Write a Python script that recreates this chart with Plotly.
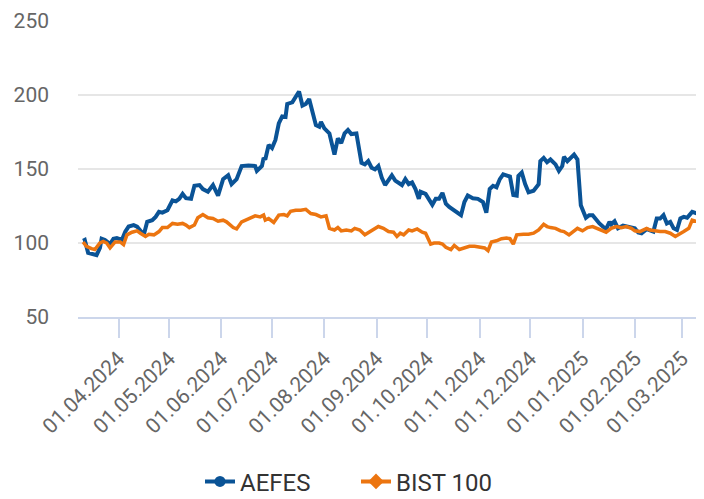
import plotly.graph_objects as go

aefes_dates = [
    "2024-03-11", "2024-03-12", "2024-03-14", "2024-03-17", "2024-03-19", "2024-03-21", "2024-03-22",
    "2024-03-24", "2024-03-27", "2024-03-29", "2024-03-31", "2024-04-03", "2024-04-05", "2024-04-07",
    "2024-04-10", "2024-04-12", "2024-04-15", "2024-04-16", "2024-04-18", "2024-04-21", "2024-04-23",
    "2024-04-25", "2024-04-27", "2024-04-30", "2024-05-03", "2024-05-05", "2024-05-07", "2024-05-09",
    "2024-05-11", "2024-05-14", "2024-05-16", "2024-05-19", "2024-05-21", "2024-05-24", "2024-05-27",
    "2024-05-30", "2024-06-02", "2024-06-05", "2024-06-07", "2024-06-10", "2024-06-13", "2024-06-17",
    "2024-06-21", "2024-06-22", "2024-06-25", "2024-06-26", "2024-06-27", "2024-06-29", "2024-07-01",
    "2024-07-03", "2024-07-05", "2024-07-07", "2024-07-09", "2024-07-10", "2024-07-13", "2024-07-15",
    "2024-07-17", "2024-07-19", "2024-07-21", "2024-07-23", "2024-07-25", "2024-07-27", "2024-07-29",
    "2024-07-30", "2024-08-01", "2024-08-04", "2024-08-07", "2024-08-09", "2024-08-11", "2024-08-13",
    "2024-08-15", "2024-08-17", "2024-08-20", "2024-08-22", "2024-08-23", "2024-08-25", "2024-08-27",
    "2024-08-29", "2024-08-31", "2024-09-02", "2024-09-04", "2024-09-06", "2024-09-08", "2024-09-10",
    "2024-09-12", "2024-09-14", "2024-09-16", "2024-09-18", "2024-09-20", "2024-09-22", "2024-09-24",
    "2024-09-26", "2024-09-27", "2024-09-30", "2024-10-02", "2024-10-04", "2024-10-06", "2024-10-08",
    "2024-10-10", "2024-10-12", "2024-10-14", "2024-10-16", "2024-10-18", "2024-10-21", "2024-10-23",
    "2024-10-25", "2024-10-28", "2024-10-31", "2024-11-03", "2024-11-05", "2024-11-07", "2024-11-09",
    "2024-11-11", "2024-11-13", "2024-11-15", "2024-11-17", "2024-11-19", "2024-11-21", "2024-11-23",
    "2024-11-24", "2024-11-26", "2024-11-28", "2024-11-30", "2024-12-03", "2024-12-06", "2024-12-07",
    "2024-12-09", "2024-12-11", "2024-12-13", "2024-12-16", "2024-12-18", "2024-12-20", "2024-12-21",
    "2024-12-23", "2024-12-25", "2024-12-27", "2024-12-29", "2024-12-30", "2024-12-31", "2025-01-03",
    "2025-01-05", "2025-01-07", "2025-01-09", "2025-01-11", "2025-01-13", "2025-01-15", "2025-01-17",
    "2025-01-18", "2025-01-20", "2025-01-22", "2025-01-25", "2025-01-27", "2025-01-30", "2025-02-01",
    "2025-02-03", "2025-02-05", "2025-02-08", "2025-02-10", "2025-02-12", "2025-02-14", "2025-02-16",
    "2025-02-18", "2025-02-20", "2025-02-22", "2025-02-24", "2025-02-26", "2025-02-28", "2025-03-02",
    "2025-03-04", "2025-03-07", "2025-03-09", "2025-03-12",
]
aefes_values = [
    101.4, 102.0, 93.3, 92.2, 91.7, 96.6, 102.8,
    102.0, 99.2, 102.8, 103.2, 102.0, 107.6, 111.0,
    112.0, 111.0, 106.5, 105.4, 114.2, 115.3, 117.5,
    120.9, 120.4, 122.0, 128.6, 128.0, 129.7, 133.0,
    130.1, 129.7, 138.5, 139.0, 136.3, 134.5, 139.0,
    131.9, 143.0, 145.6, 139.6, 143.0, 151.8, 152.2,
    151.8, 148.5, 151.8, 157.3, 156.2, 166.1, 163.9,
    169.4, 180.5, 185.3, 184.9, 193.7, 194.8, 198.6,
    202.1, 192.6, 193.7, 197.0, 187.1, 179.4, 178.3,
    181.6, 177.2, 173.8, 159.5, 170.5, 167.2, 173.8,
    176.1, 173.4, 173.8, 162.8, 154.0, 152.9, 155.1,
    150.7, 149.6, 151.8, 144.0, 139.0, 142.0, 145.6,
    142.0, 140.7, 139.0, 143.0, 139.6, 140.7, 136.3,
    129.7, 134.5, 133.0, 129.7, 125.7, 129.7, 129.7,
    133.7, 126.4, 124.2, 122.6, 120.9, 118.7, 127.5,
    131.9, 130.1, 129.7, 127.5, 120.4, 136.3, 138.5,
    137.5, 143.0, 146.2, 145.1, 144.7, 132.3, 131.9,
    145.1, 147.4, 139.6, 134.1, 135.2, 139.6, 155.1,
    157.3, 154.4, 156.2, 152.9, 148.5, 151.8, 158.0,
    155.1, 157.3, 159.5, 156.2, 143.0, 125.3, 116.9,
    118.7, 118.7, 115.3, 113.1, 111.0, 109.4, 114.2,
    112.5, 114.6, 109.8, 111.6, 111.0, 110.3, 109.8,
    107.0, 106.5, 109.2, 108.1, 107.6, 116.4, 116.4,
    118.7, 113.1, 114.2, 109.8, 108.7, 116.4, 117.5,
    116.9, 120.9, 120.4, 119.1,
]

bist_dates = [
    "2024-03-11", "2024-03-13", "2024-03-16", "2024-03-18", "2024-03-21", "2024-03-23", "2024-03-25",
    "2024-03-27", "2024-03-30", "2024-04-02", "2024-04-04", "2024-04-06", "2024-04-09", "2024-04-12",
    "2024-04-14", "2024-04-17", "2024-04-19", "2024-04-22", "2024-04-25", "2024-04-27", "2024-04-30",
    "2024-05-03", "2024-05-06", "2024-05-09", "2024-05-11", "2024-05-13", "2024-05-16", "2024-05-18",
    "2024-05-21", "2024-05-24", "2024-05-27", "2024-05-30", "2024-06-02", "2024-06-04", "2024-06-08",
    "2024-06-10", "2024-06-13", "2024-06-17", "2024-06-21", "2024-06-24", "2024-06-26", "2024-06-27",
    "2024-06-29", "2024-07-02", "2024-07-05", "2024-07-08", "2024-07-10", "2024-07-12", "2024-07-15",
    "2024-07-18", "2024-07-21", "2024-07-24", "2024-07-27", "2024-07-30", "2024-08-02", "2024-08-04",
    "2024-08-07", "2024-08-09", "2024-08-11", "2024-08-14", "2024-08-17", "2024-08-19", "2024-08-22",
    "2024-08-25", "2024-08-28", "2024-08-31", "2024-09-02", "2024-09-05", "2024-09-08", "2024-09-11",
    "2024-09-13", "2024-09-15", "2024-09-17", "2024-09-20", "2024-09-22", "2024-09-25", "2024-09-28",
    "2024-09-30", "2024-10-03", "2024-10-05", "2024-10-08", "2024-10-10", "2024-10-12", "2024-10-15",
    "2024-10-17", "2024-10-20", "2024-10-23", "2024-10-26", "2024-10-29", "2024-11-01", "2024-11-04",
    "2024-11-06", "2024-11-08", "2024-11-11", "2024-11-14", "2024-11-17", "2024-11-19", "2024-11-21",
    "2024-11-23", "2024-11-27", "2024-11-30", "2024-12-03", "2024-12-06", "2024-12-09", "2024-12-11",
    "2024-12-13", "2024-12-16", "2024-12-19", "2024-12-21", "2024-12-24", "2024-12-27", "2024-12-29",
    "2025-01-01", "2025-01-04", "2025-01-07", "2025-01-10", "2025-01-12", "2025-01-15", "2025-01-18",
    "2025-01-21", "2025-01-24", "2025-01-27", "2025-01-30", "2025-02-01", "2025-02-04", "2025-02-08",
    "2025-02-10", "2025-02-13", "2025-02-16", "2025-02-19", "2025-02-22", "2025-02-25", "2025-02-27",
    "2025-03-02", "2025-03-05", "2025-03-07", "2025-03-09", "2025-03-12",
]
bist_values = [
    100.6, 97.7, 96.1, 95.5, 99.9, 101.0, 99.9,
    96.6, 100.6, 100.6, 98.8, 105.4, 107.2, 108.1,
    106.5, 104.3, 105.8, 105.4, 107.6, 110.3, 110.3,
    113.1, 112.5, 113.1, 112.0, 110.3, 112.0, 116.9,
    119.1, 116.9, 116.4, 114.6, 115.3, 114.2, 110.3,
    109.4, 114.2, 116.4, 118.2, 117.5, 118.7, 115.3,
    116.4, 113.8, 118.7, 119.1, 118.2, 121.3, 122.0,
    122.0, 122.6, 119.8, 119.1, 117.5, 118.2, 109.8,
    108.7, 110.3, 108.1, 108.7, 108.1, 109.8, 108.7,
    105.4, 107.6, 109.4, 111.0, 109.8, 107.6, 107.2,
    104.3, 106.5, 105.4, 108.7, 108.1, 109.4, 107.2,
    106.5, 99.2, 99.9, 99.9, 99.2, 97.0, 95.5,
    98.3, 95.5, 96.6, 97.7, 97.7, 97.0, 96.6,
    94.8, 100.6, 101.4, 102.8, 103.2, 102.8, 99.2,
    105.4, 105.8, 105.8, 106.5, 108.7, 112.5, 111.0,
    110.3, 109.8, 108.1, 107.6, 105.4, 108.1, 109.8,
    108.1, 110.3, 111.0, 109.4, 108.7, 107.2, 109.8,
    111.0, 110.3, 111.0, 109.8, 108.1, 107.6, 109.8,
    108.7, 108.1, 107.6, 107.6, 106.5, 104.3, 105.4,
    107.6, 109.8, 115.3, 114.6, 114.2,
]

tick_dates = ["2024-04-01", "2024-05-01", "2024-06-01", "2024-07-01", "2024-08-01", "2024-09-01",
              "2024-10-01", "2024-11-01", "2024-12-01", "2025-01-01", "2025-02-01", "2025-03-01"]
tick_labels = ["01.04.2024", "01.05.2024", "01.06.2024", "01.07.2024", "01.08.2024", "01.09.2024",
               "01.10.2024", "01.11.2024", "01.12.2024", "01.01.2025", "01.02.2025", "01.03.2025"]
y_ticks = [50, 100, 150, 200, 250]

FONT = "Roboto, Noto Sans, sans-serif"
BLUE = "#0a5396"
ORANGE = "#ec7510"

fig = go.Figure()
fig.add_trace(go.Scatter(
    x=aefes_dates, y=aefes_values, name="AEFES", mode="lines",
    line=dict(color=BLUE, width=4), showlegend=False,
))
fig.add_trace(go.Scatter(
    x=bist_dates, y=bist_values, name="BIST 100", mode="lines",
    line=dict(color=ORANGE, width=3.5), showlegend=False,
))
# legend entries (line + marker symbol, as in the reference legend)
fig.add_trace(go.Scatter(
    x=[None], y=[None], name="AEFES", mode="lines+markers",
    line=dict(color=BLUE, width=4), marker=dict(symbol="circle", size=11, color=BLUE),
))
fig.add_trace(go.Scatter(
    x=[None], y=[None], name="BIST 100", mode="lines+markers",
    line=dict(color=ORANGE, width=4), marker=dict(symbol="diamond", size=12, color=ORANGE),
))

# The page adds an 8px body margin, so the figure is 8px smaller and shifted accordingly.
fig.update_layout(
    width=696, height=491,
    margin=dict(l=70, r=0, t=12, b=182, autoexpand=False),
    paper_bgcolor="white", plot_bgcolor="white",
    font=dict(family=FONT, color="#666666"),
    showlegend=True,
    legend=dict(
        orientation="h", xref="container", yref="container",
        x=0.5, xanchor="center", y=0.035, yanchor="middle",
        font=dict(size=24, color="#333333", family=FONT),
        itemwidth=30, entrywidth=111, entrywidthmode="pixels",
    ),
    xaxis=dict(
        type="date", automargin=False,
        range=["2024-03-08", "2025-03-14"],
        tickvals=tick_dates, ticktext=tick_labels,
        tickangle=-45,
        tickfont=dict(size=21, color="#666666"),
        ticks="outside", ticklen=19, tickwidth=2, tickcolor="#ccd6eb",
        showline=True, linecolor="#ccd6eb", linewidth=2,
        showgrid=False, zeroline=False,
    ),
    yaxis=dict(
        range=[50, 250.3], tickvals=y_ticks, automargin=False,
        tickfont=dict(size=21, color="#666666"),
        showgrid=True, gridcolor="#e6e6e6", gridwidth=2,
        zeroline=False, showline=False, ticks="",
        ticklabelstandoff=28, ticklabeloverflow="allow",
    ),
)

fig.write_html("out.html")
